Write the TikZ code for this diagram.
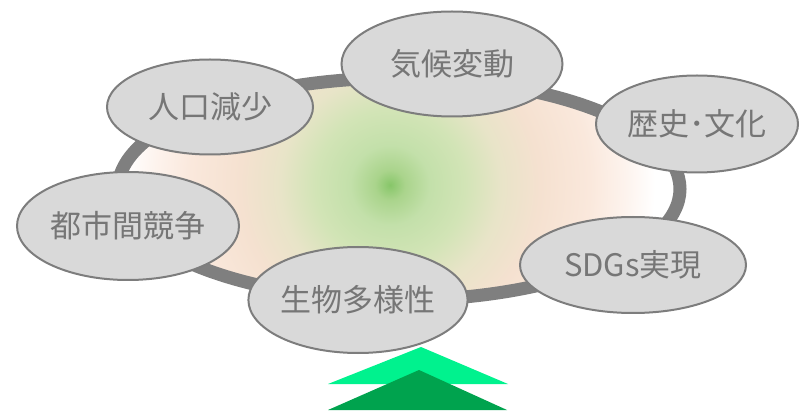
\documentclass[tikz,border=0pt]{standalone}
\usepackage{fontspec}
\newfontfamily\jp{Noto Sans CJK JP}
\usetikzlibrary{shapes.geometric}
\definecolor{cg0}{RGB}{135,198,105}
\definecolor{cg1}{RGB}{170,212,140}
\definecolor{cg2}{RGB}{195,224,170}
\definecolor{cg3}{RGB}{210,228,182}
\definecolor{cg4}{RGB}{232,228,200}
\definecolor{cg5}{RGB}{245,225,208}
\definecolor{cg6}{RGB}{250,232,220}
\definecolor{cg7}{RGB}{253,243,237}
\definecolor{ringgray}{RGB}{127,127,127}
\definecolor{nodefill}{RGB}{217,217,217}
\definecolor{nodeline}{RGB}{125,125,125}
\definecolor{txtgray}{RGB}{118,118,118}
\definecolor{tlight}{RGB}{0,242,142}
\definecolor{tdark}{RGB}{0,163,78}
% 25bp of the shading = 290px (the shaded circle's radius)
\pgfdeclareradialshading{ringshade}{\pgfpoint{0bp}{0bp}}{%
  color(0bp)=(cg0); color(1.29bp)=(cg1); color(3.45bp)=(cg2);
  color(6.47bp)=(cg3); color(9.48bp)=(cg4); color(12.93bp)=(cg5);
  color(17.24bp)=(cg6); color(20.26bp)=(cg7); color(22.84bp)=(white);
  color(50bp)=(white)}
\tikzset{
  topic/.style={ellipse, draw=nodeline, line width=2pt, fill=nodefill,
    inner sep=0pt, text=txtgray, font=\jp\fontsize{31}{36}\selectfont}
}
\begin{document}
\begin{tikzpicture}[x=1pt,y=-1pt]
\useasboundingbox (0,0) rectangle (800,411);
% ring
\begin{scope}
  \clip (399,189) ellipse [x radius=281, y radius=111];
  \shade[shading=ringshade] (390,185) circle (290);
\end{scope}
\draw[ringgray, line width=13pt] (399,189) ellipse [x radius=281, y radius=111];
% upward chevrons
\fill[tlight] (328,384) -- (421,347) -- (508,384) -- cycle;
\fill[tdark] (328,410) -- (419,370) -- (507,410) -- cycle;
% topics
\node[topic, minimum width=221pt, minimum height=105pt] (kiko) at (452,64) {気候変動};
\node[topic, minimum width=206pt, minimum height=95pt] (jinko) at (210,107) {人口減少};
\node[topic, minimum width=202pt, minimum height=97pt] (rekishi) at (697,124) {歴史･文化};
\node[topic, minimum width=222pt, minimum height=108pt] (toshi) at (128,226) {都市間競争};
\node[topic, minimum width=210pt, minimum height=106pt] (seibutsu) at (358,300) {生物多様性};
\node[topic, minimum width=226pt, minimum height=96pt] (sdgs) at (633,265) {SDGs実現};
\end{tikzpicture}
\end{document}
